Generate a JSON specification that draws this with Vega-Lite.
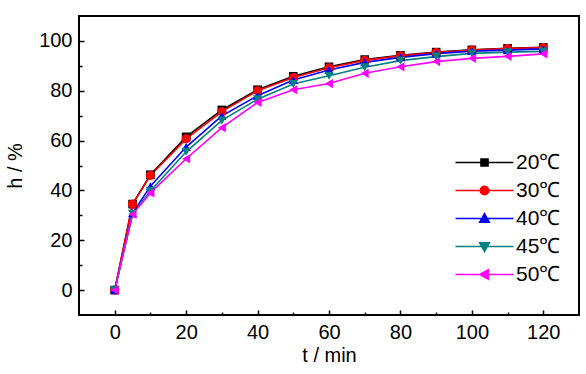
{
  "$schema": "https://vega.github.io/schema/vega-lite/v6.json",
  "autosize": "none",
  "width": 500,
  "height": 299,
  "padding": {"left": 79, "top": 16, "right": 7, "bottom": 59},
  "background": "white",
  "config": {
    "view": {"stroke": "#000", "strokeWidth": 2},
    "font": "Liberation Sans",
    "axis": {"grid": false, "domain": false, "tickColor": "#000", "tickWidth": 1.5, "labelColor": "#000", "titleColor": "#000", "labelFont": "Liberation Sans", "titleFont": "Liberation Sans", "labelFontSize": 20, "titleFontSize": 20, "titleFontWeight": "normal"}
  },
  "data": {"values": [
    {"t":0,"h":0,"T":"20℃"},{"t":5,"h":34.5,"T":"20℃"},{"t":10,"h":46.3,"T":"20℃"},{"t":20,"h":61.5,"T":"20℃"},{"t":30,"h":72.3,"T":"20℃"},{"t":40,"h":80.4,"T":"20℃"},{"t":50,"h":85.8,"T":"20℃"},{"t":60,"h":89.6,"T":"20℃"},{"t":70,"h":92.5,"T":"20℃"},{"t":80,"h":94.2,"T":"20℃"},{"t":90,"h":95.5,"T":"20℃"},{"t":100,"h":96.4,"T":"20℃"},{"t":110,"h":97.0,"T":"20℃"},{"t":120,"h":97.4,"T":"20℃"},
    {"t":0,"h":0,"T":"30℃"},{"t":5,"h":34.5,"T":"30℃"},{"t":10,"h":46.0,"T":"30℃"},{"t":20,"h":60.7,"T":"30℃"},{"t":30,"h":71.6,"T":"30℃"},{"t":40,"h":80.0,"T":"30℃"},{"t":50,"h":85.3,"T":"30℃"},{"t":60,"h":89.2,"T":"30℃"},{"t":70,"h":92.2,"T":"30℃"},{"t":80,"h":94.0,"T":"30℃"},{"t":90,"h":95.3,"T":"30℃"},{"t":100,"h":96.3,"T":"30℃"},{"t":110,"h":96.9,"T":"30℃"},{"t":120,"h":97.3,"T":"30℃"},
    {"t":0,"h":0,"T":"40℃"},{"t":5,"h":30.8,"T":"40℃"},{"t":10,"h":41.7,"T":"40℃"},{"t":20,"h":57.4,"T":"40℃"},{"t":30,"h":69.9,"T":"40℃"},{"t":40,"h":78.0,"T":"40℃"},{"t":50,"h":84.3,"T":"40℃"},{"t":60,"h":88.3,"T":"40℃"},{"t":70,"h":91.4,"T":"40℃"},{"t":80,"h":93.4,"T":"40℃"},{"t":90,"h":94.9,"T":"40℃"},{"t":100,"h":95.9,"T":"40℃"},{"t":110,"h":96.3,"T":"40℃"},{"t":120,"h":96.8,"T":"40℃"},
    {"t":0,"h":0,"T":"45℃"},{"t":5,"h":30.6,"T":"45℃"},{"t":10,"h":39.8,"T":"45℃"},{"t":20,"h":55.5,"T":"45℃"},{"t":30,"h":68.1,"T":"45℃"},{"t":40,"h":76.6,"T":"45℃"},{"t":50,"h":82.7,"T":"45℃"},{"t":60,"h":86.0,"T":"45℃"},{"t":70,"h":89.4,"T":"45℃"},{"t":80,"h":92.1,"T":"45℃"},{"t":90,"h":93.7,"T":"45℃"},{"t":100,"h":95.0,"T":"45℃"},{"t":110,"h":95.5,"T":"45℃"},{"t":120,"h":95.8,"T":"45℃"},
    {"t":0,"h":0,"T":"50℃"},{"t":5,"h":30.4,"T":"50℃"},{"t":10,"h":39.0,"T":"50℃"},{"t":20,"h":52.7,"T":"50℃"},{"t":30,"h":65.2,"T":"50℃"},{"t":40,"h":75.3,"T":"50℃"},{"t":50,"h":80.4,"T":"50℃"},{"t":60,"h":82.9,"T":"50℃"},{"t":70,"h":87.0,"T":"50℃"},{"t":80,"h":89.6,"T":"50℃"},{"t":90,"h":91.7,"T":"50℃"},{"t":100,"h":93.0,"T":"50℃"},{"t":110,"h":93.8,"T":"50℃"},{"t":120,"h":94.8,"T":"50℃"}
  ]},
  "resolve": {"axis": {"x": "independent", "y": "independent"}},
  "layer": [
    {
      "mark": {"type": "line", "strokeWidth": 1.6},
      "encoding": {
        "x": {"field": "t", "type": "quantitative", "scale": {"domain": [-10, 130], "nice": false, "zero": false},
              "axis": {"values": [0, 20, 40, 60, 80, 100, 120], "tickSize": -5, "labelPadding": 12, "title": "t / min", "titlePadding": 3, "orient": "bottom"}},
        "y": {"field": "h", "type": "quantitative", "scale": {"domain": [-10, 110], "nice": false, "zero": false},
              "axis": {"values": [0, 20, 40, 60, 80, 100], "tickSize": -5, "labelPadding": 12, "title": "h / %", "titlePadding": 13, "orient": "left"}},
        "color": {"field": "T", "type": "nominal",
                  "scale": {"domain": ["20℃", "30℃", "40℃", "45℃", "50℃"], "range": ["#000000", "#ff0000", "#0000ff", "#008080", "#ff00ff"]},
                  "legend": {"orient": "none", "legendX": 395, "legendY": 136, "title": null, "padding": 0,
                             "labelFontSize": 21, "labelColor": "#000", "labelOffset": 21, "rowPadding": 6,
                             "symbolSize": 100, "symbolStrokeWidth": 1.6,
                             "encode": {"symbols": {"update": {
                               "fill": {"scale": "color", "field": "value"},
                               "stroke": {"scale": "color", "field": "value"},
                               "shape": {"signal": "datum.value === '20℃' ? 'M-5.8,0H5.8M-0.7,-0.7H0.7V0.7H-0.7Z' : datum.value === '30℃' ? 'M-5.8,0H5.8M-0.85,0A0.85,0.85 0 1,0 0.85,0A0.85,0.85 0 1,0 -0.85,0Z' : datum.value === '40℃' ? 'M-5.8,0H5.8M0,-0.95L0.95,0.75L-0.95,0.75Z' : datum.value === '45℃' ? 'M-5.8,0H5.8M0,0.95L0.95,-0.75L-0.95,-0.75Z' : 'M-5.8,0H5.8M-0.95,0L0.75,-0.95L0.75,0.95Z'"}
                             }}}}},
        "order": {"field": "t"}
      }
    },
    {
      "transform": [{"filter": "datum.T === '20℃'"}],
      "mark": {"type": "point", "filled": true, "opacity": 1, "size": 75, "shape": "square"},
      "encoding": {
        "x": {"field": "t", "type": "quantitative",
              "axis": {"values": [10, 30, 50, 70, 90, 110], "tickSize": -3, "labels": false, "title": null, "orient": "bottom", "domain": false}},
        "y": {"field": "h", "type": "quantitative",
              "axis": {"values": [10, 30, 50, 70, 90], "tickSize": -3, "labels": false, "title": null, "orient": "left", "domain": false}},
        "color": {"field": "T", "type": "nominal", "legend": null}
      }
    },
    {
      "transform": [{"filter": "datum.T === '30℃'"}],
      "mark": {"type": "point", "filled": true, "opacity": 1, "size": 85, "shape": "circle"},
      "encoding": {
        "x": {"field": "t", "type": "quantitative", "axis": null},
        "y": {"field": "h", "type": "quantitative", "axis": null},
        "color": {"field": "T", "type": "nominal", "legend": null}
      }
    },
    {
      "transform": [{"filter": "datum.T === '40℃'"}],
      "mark": {"type": "point", "filled": true, "opacity": 1, "size": 85, "shape": "triangle-up"},
      "encoding": {
        "x": {"field": "t", "type": "quantitative", "axis": null},
        "y": {"field": "h", "type": "quantitative", "axis": null},
        "color": {"field": "T", "type": "nominal", "legend": null}
      }
    },
    {
      "transform": [{"filter": "datum.T === '45℃'"}],
      "mark": {"type": "point", "filled": true, "opacity": 1, "size": 85, "shape": "triangle-down"},
      "encoding": {
        "x": {"field": "t", "type": "quantitative", "axis": null},
        "y": {"field": "h", "type": "quantitative", "axis": null},
        "color": {"field": "T", "type": "nominal", "legend": null}
      }
    },
    {
      "transform": [{"filter": "datum.T === '50℃'"}],
      "mark": {"type": "point", "filled": true, "opacity": 1, "size": 85, "shape": "triangle-left"},
      "encoding": {
        "x": {"field": "t", "type": "quantitative", "axis": null},
        "y": {"field": "h", "type": "quantitative", "axis": null},
        "color": {"field": "T", "type": "nominal", "legend": null}
      }
    }
  ]
}
